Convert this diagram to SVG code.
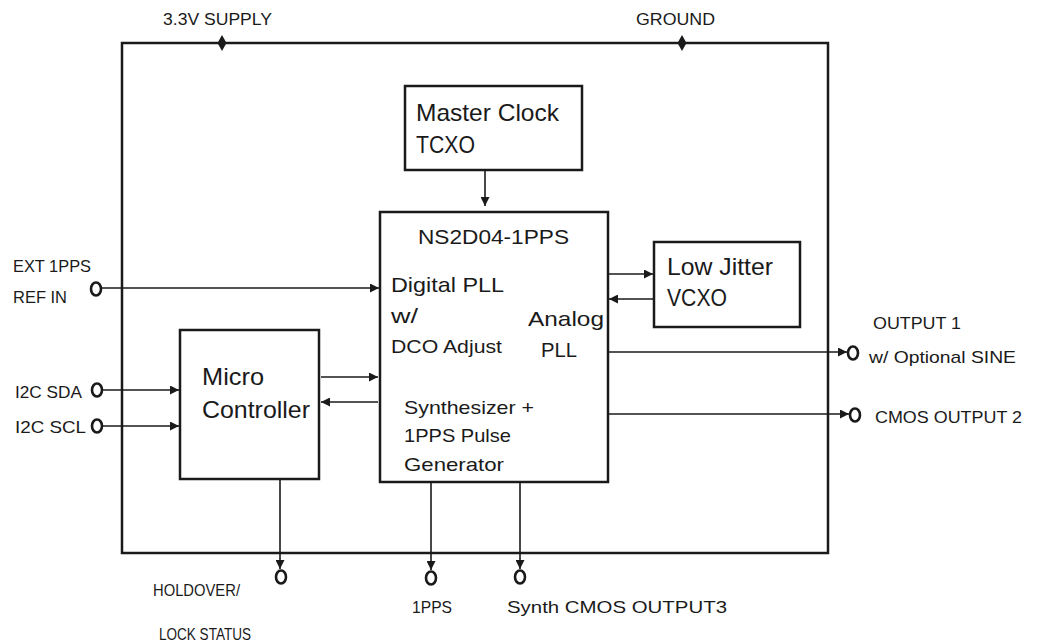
<svg xmlns="http://www.w3.org/2000/svg" width="1037" height="642" viewBox="0 0 1037 642">
<defs>
<style>
text{font-family:"Liberation Sans",Arial,sans-serif;fill:#1a1a1a}
.lbl{font-size:17px}
.big{font-size:24px}
.mid{font-size:21px}
.sm{font-size:19px}
.box{fill:#fff;stroke:#1a1a1a;stroke-width:2.5}
.ln{stroke:#1a1a1a;stroke-width:1.6;fill:none}
.pin{fill:none;stroke:#1a1a1a;stroke-width:2.6}
</style>
<marker id="ah" viewBox="0 0 10 10" refX="10" refY="5" markerWidth="9" markerHeight="9" markerUnits="userSpaceOnUse" orient="auto">
<path d="M0,0 L10,5 L0,10 z" fill="#1a1a1a"/>
</marker>
</defs>
<rect width="1037" height="642" fill="#fff"/>
<g id="outer">
<rect x="122" y="43" width="706" height="510" fill="none" stroke="#1a1a1a" stroke-width="2.5"/>
<path d="M222,35 L226.5,43 L222,51 L217.5,43 z" fill="#1a1a1a"/>
<path d="M682,35 L686.5,43 L682,51 L677.5,43 z" fill="#1a1a1a"/>
<text class="lbl" x="163" y="25" textLength="109" lengthAdjust="spacingAndGlyphs">3.3V SUPPLY</text>
<text class="lbl" x="636" y="25" textLength="79" lengthAdjust="spacingAndGlyphs">GROUND</text>
</g>
<g id="master-clock">
<rect class="box" x="405" y="86" width="177" height="84"/>
<text class="big" x="416" y="121" textLength="143" lengthAdjust="spacingAndGlyphs">Master Clock</text>
<text class="big" x="416" y="153" textLength="59" lengthAdjust="spacingAndGlyphs">TCXO</text>
</g>
<g id="ns2d04">
<rect class="box" x="380" y="212" width="228" height="270"/>
<text class="mid" x="418" y="244" textLength="151" lengthAdjust="spacingAndGlyphs">NS2D04-1PPS</text>
<text class="mid" x="391" y="292" textLength="113" lengthAdjust="spacingAndGlyphs">Digital PLL</text>
<text class="mid" x="391" y="323" textLength="27" lengthAdjust="spacingAndGlyphs">w/</text>
<text class="sm" x="391" y="353" textLength="111" lengthAdjust="spacingAndGlyphs">DCO Adjust</text>
<text class="mid" x="528" y="326" textLength="76" lengthAdjust="spacingAndGlyphs">Analog</text>
<text class="mid" x="541" y="357" textLength="36" lengthAdjust="spacingAndGlyphs">PLL</text>
<text class="sm" x="404" y="414" textLength="130" lengthAdjust="spacingAndGlyphs">Synthesizer +</text>
<text class="sm" x="404" y="442" textLength="107" lengthAdjust="spacingAndGlyphs">1PPS Pulse</text>
<text class="sm" x="404" y="471" textLength="100" lengthAdjust="spacingAndGlyphs">Generator</text>
</g>
<g id="vcxo">
<rect class="box" x="654" y="242" width="146" height="85"/>
<text class="big" x="667" y="275" textLength="106" lengthAdjust="spacingAndGlyphs">Low Jitter</text>
<text class="big" x="667" y="306" textLength="60" lengthAdjust="spacingAndGlyphs">VCXO</text>
</g>
<g id="micro">
<rect class="box" x="180" y="330" width="139" height="149"/>
<text class="big" x="202" y="385" textLength="62" lengthAdjust="spacingAndGlyphs">Micro</text>
<text class="big" x="202" y="418" textLength="108" lengthAdjust="spacingAndGlyphs">Controller</text>
</g>
<g id="pins">
<ellipse class="pin" cx="96" cy="289" rx="5" ry="6.5"/>
<ellipse class="pin" cx="97" cy="390" rx="5" ry="6.5"/>
<ellipse class="pin" cx="97" cy="426" rx="5" ry="6.5"/>
<ellipse class="pin" cx="853" cy="353" rx="5" ry="6.5"/>
<ellipse class="pin" cx="855" cy="415" rx="5" ry="6.5"/>
<ellipse class="pin" cx="281" cy="577" rx="5" ry="6.5"/>
<ellipse class="pin" cx="431" cy="578" rx="5" ry="6.5"/>
<ellipse class="pin" cx="520" cy="577" rx="5" ry="6.5"/>
<text class="lbl" x="13" y="272" textLength="78" lengthAdjust="spacingAndGlyphs">EXT 1PPS</text>
<text class="lbl" x="13" y="303" textLength="54" lengthAdjust="spacingAndGlyphs">REF IN</text>
<text class="lbl" x="15" y="398" textLength="67" lengthAdjust="spacingAndGlyphs">I2C SDA</text>
<text class="lbl" x="15" y="433" textLength="71" lengthAdjust="spacingAndGlyphs">I2C SCL</text>
<text class="lbl" x="873" y="329" textLength="88" lengthAdjust="spacingAndGlyphs">OUTPUT 1</text>
<text class="lbl" x="869" y="363" textLength="147" lengthAdjust="spacingAndGlyphs">w/ Optional SINE</text>
<text class="lbl" x="875" y="423" textLength="147" lengthAdjust="spacingAndGlyphs">CMOS OUTPUT 2</text>
<text class="lbl" x="153" y="596" textLength="87" lengthAdjust="spacingAndGlyphs">HOLDOVER/</text>
<text class="lbl" x="159" y="640" textLength="92" lengthAdjust="spacingAndGlyphs">LOCK STATUS</text>
<text class="lbl" x="412" y="613" textLength="40" lengthAdjust="spacingAndGlyphs">1PPS</text>
<text class="lbl" x="507" y="613" textLength="220" lengthAdjust="spacingAndGlyphs">Synth CMOS OUTPUT3</text>
</g>
<g id="connectors">
<line class="ln" x1="485" y1="171" x2="485" y2="206" marker-end="url(#ah)"/>
<line class="ln" x1="102" y1="288" x2="379" y2="288" marker-end="url(#ah)"/>
<line class="ln" x1="102" y1="390" x2="179" y2="390" marker-end="url(#ah)"/>
<line class="ln" x1="102" y1="426" x2="179" y2="426" marker-end="url(#ah)"/>
<line class="ln" x1="321" y1="377" x2="378" y2="377" marker-end="url(#ah)"/>
<line class="ln" x1="378" y1="402" x2="321" y2="402" marker-end="url(#ah)"/>
<line class="ln" x1="608" y1="274" x2="653" y2="274" marker-end="url(#ah)"/>
<line class="ln" x1="654" y1="299" x2="609" y2="299" marker-end="url(#ah)"/>
<line class="ln" x1="608" y1="352" x2="847" y2="352" marker-end="url(#ah)"/>
<line class="ln" x1="608" y1="414" x2="849" y2="414" marker-end="url(#ah)"/>
<line class="ln" x1="280" y1="479" x2="280" y2="569" marker-end="url(#ah)"/>
<line class="ln" x1="431" y1="482" x2="431" y2="570" marker-end="url(#ah)"/>
<line class="ln" x1="520" y1="482" x2="520" y2="569" marker-end="url(#ah)"/>
</g>
</svg>
